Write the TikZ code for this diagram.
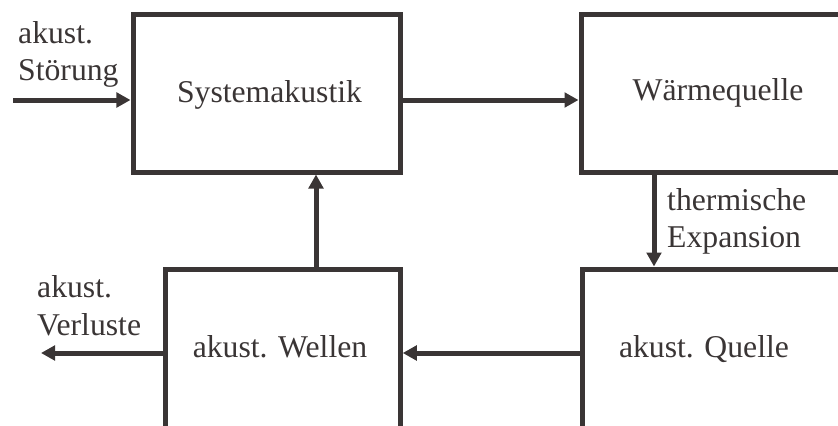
\documentclass[tikz,border=0pt]{standalone}
\usepackage{fontspec}
\setmainfont{Liberation Serif}
\usetikzlibrary{arrows.meta}
\definecolor{ink}{RGB}{58,53,53}
\tikzset{
  block/.style={draw=ink, line width=5bp, rectangle, inner sep=0pt},
  flow/.style={draw=ink, line width=5bp, -{Triangle[length=14bp, width=14.5bp]}},
  txt/.style={text=ink, inner sep=0pt, font=\fontsize{31.7bp}{38bp}\selectfont},
}
\begin{document}
\begin{tikzpicture}[x=1bp, y=-1bp]
  \useasboundingbox (0,0) rectangle (838,425);
  % blocks (the right-hand and lower ones run past the page edge)
  \node[block, minimum width=267bp, minimum height=157.5bp] (sys) at (266.5,93.25) {};
  \node[block, minimum width=274bp, minimum height=157.5bp] (heat) at (718,93.25) {};
  \node[block, minimum width=234.5bp, minimum height=168bp] (waves) at (283,353) {};
  \node[block, minimum width=290bp, minimum height=168bp] (src) at (727,353) {};
  % block titles
  \node[txt, anchor=base] (sysT) at (269.5,102) {Systemakustik};
  \node[txt, anchor=base] (heatT) at (718,100) {Wärmequelle};
  \node[txt, anchor=base] (wavesT) at (280,357) {akust. Wellen};
  \node[txt, anchor=base] (srcT) at (704,357) {akust. Quelle};
  % free ends of the outer signals
  \coordinate (inStart) at (13,100);
  \coordinate (outEnd) at (41,353);
  % connectors
  \draw[flow] (inStart) -- (inStart -| sys.west);
  \draw[flow] ([yshift=-6.75bp]sys.east) -- ([yshift=-6.75bp]heat.west);
  \draw[flow] (heat.south -| 654,0) -- (src.north -| 654,0);
  \draw[flow] (src.west) -- (waves.east);
  \draw[flow] (waves.north -| 316,0) -- (sys.south -| 316,0);
  \draw[flow] (waves.west) -- (outEnd);
  % signal labels
  \node[txt, anchor=base west] (inA) at (18,43) {akust.};
  \node[txt, anchor=base west] (inB) at (18,80) {Störung};
  \node[txt, anchor=base west] (thA) at (667,210) {thermische};
  \node[txt, anchor=base west] (thB) at (667,247) {Expansion};
  \node[txt, anchor=base west] (outA) at (37,297) {akust.};
  \node[txt, anchor=base west] (outB) at (37,335) {Verluste};
\end{tikzpicture}
\end{document}
